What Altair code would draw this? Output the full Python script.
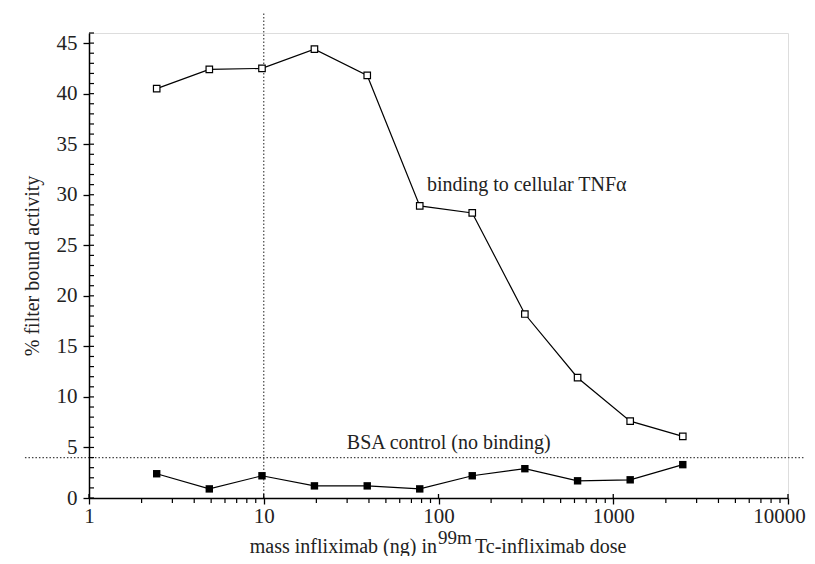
import altair as alt
import pandas as pd

# ---- data ----
dose = [2.44, 4.88, 9.77, 19.5, 39.1, 78.1, 156, 312, 625, 1250, 2500]
tnf = [40.5, 42.4, 42.5, 44.4, 41.8, 28.9, 28.2, 18.2, 11.9, 7.6, 6.1]
bsa = [2.4, 0.9, 2.2, 1.2, 1.2, 0.9, 2.2, 2.9, 1.7, 1.8, 3.3]

x_major = [1, 10, 100, 1000, 10000]
x_minor = [m * d for d in [1, 10, 100, 1000] for m in range(2, 10)]
y_major = [0, 5, 10, 15, 20, 25, 30, 35, 40, 45]
y_minor = list(range(0, 47))

ref_dose = 10
ref_level = 4

FONT = "Liberation Serif"
W, H = 699, 465

xs = alt.Scale(type="log", domain=[1, 10000])
ys = alt.Scale(domain=[0, 46])

xaxis = alt.Axis(values=x_major, format="d", title=None, grid=False,
                 domainColor="black", domainWidth=1.5, tickColor="black",
                 tickSize=6, tickWidth=1.3, labelFont=FONT, labelFontSize=21,
                 labelColor="#222", labelPadding=1, labelFlush=False,
                 labelOffset=alt.expr("datum.value == 10000 ? -9 : 0"))
yaxis = alt.Axis(values=y_major, title="% filter bound activity", grid=False,
                 domainColor="black", domainWidth=1.5, tickColor="black",
                 tickSize=6, tickWidth=1.3, labelFont=FONT, labelFontSize=21,
                 labelColor="#222", labelPadding=6, titleFont=FONT,
                 titleFontSize=20, titleFontWeight="normal", titleColor="#222",
                 titlePadding=14)

X = alt.X("x:Q", scale=xs, axis=xaxis)
Y = alt.Y("y:Q", scale=ys, axis=yaxis)

tnf_df = pd.DataFrame({"x": dose, "y": tnf})
bsa_df = pd.DataFrame({"x": dose, "y": bsa})

tnf_line = alt.Chart(tnf_df).mark_line(color="black", strokeWidth=1.2).encode(x=X, y=Y)
tnf_pts = alt.Chart(tnf_df).mark_point(shape="square", filled=True, fill="white",
                                        stroke="black", strokeWidth=1.2, size=42,
                                        opacity=1).encode(x=X, y=Y)
bsa_line = alt.Chart(bsa_df).mark_line(color="black", strokeWidth=1.2).encode(x=X, y=Y)
bsa_pts = alt.Chart(bsa_df).mark_point(shape="square", filled=True, color="black",
                                        size=55, opacity=1).encode(x=X, y=Y)

vline = alt.Chart(pd.DataFrame({"x": [ref_dose], "y": [0], "y2": [48]})).mark_rule(
    color="#444", strokeDash=[1.5, 2], strokeWidth=1.2, clip=False
).encode(x=X, y=Y, y2="y2:Q")

hline = alt.Chart(pd.DataFrame({"x": [0.43], "x2": [12500], "y": [ref_level]})).mark_rule(
    color="#444", strokeDash=[1.5, 2], strokeWidth=1.2, clip=False
).encode(x=X, x2="x2:Q", y=Y)

ymin = alt.Chart(pd.DataFrame({"y": y_minor})).mark_rule(
    color="black", strokeWidth=1.2, clip=False
).encode(y=Y, x=alt.value(0), x2=alt.value(5))

xmin = alt.Chart(pd.DataFrame({"x": x_minor})).mark_rule(
    color="black", strokeWidth=1.2, clip=False
).encode(x=X, y=alt.value(H), y2=alt.value(H + 5))

xmaj_in = alt.Chart(pd.DataFrame({"x": x_major})).mark_rule(
    color="black", strokeWidth=1.3, clip=False
).encode(x=X, y=alt.value(H - 4), y2=alt.value(H))

ann = alt.Chart(pd.DataFrame({
    "x": [86, 29.9], "y": [31.0, 5.44],
    "t": ["binding to cellular TNFα", "BSA control (no binding)"]
})).mark_text(font=FONT, fontSize=20, align="left", baseline="middle",
              color="#222").encode(x=X, y=Y, text="t:N")

title_df = pd.DataFrame({"d": [0]})
t1 = alt.Chart(title_df).mark_text(font=FONT, fontSize=20, align="right",
                                   baseline="alphabetic", color="#222",
                                   text="mass infliximab (ng) in").encode(
    x=alt.value(348), y=alt.value(520))
t2 = alt.Chart(title_df).mark_text(font=FONT, fontSize=19, align="left",
                                   baseline="alphabetic", color="#222",
                                   text="99m").encode(
    x=alt.value(349), y=alt.value(511))
t3 = alt.Chart(title_df).mark_text(font=FONT, fontSize=20, align="left",
                                   baseline="alphabetic", color="#222",
                                   text="Tc-infliximab dose").encode(
    x=alt.value(386), y=alt.value(520))

chart = alt.layer(
    vline, hline, ymin, xmin, xmaj_in, tnf_line, tnf_pts, bsa_line, bsa_pts,
    ann, t1, t2, t3
).properties(
    width=W, height=H,
    autosize=alt.AutoSizeParams(type="none"),
    padding={"left": 81, "top": 25, "right": 19, "bottom": 58},
).configure_view(stroke=None).configure_axis(
    labelFont=FONT, titleFont=FONT
).configure(background="white")

chart.save("out.html", embed_options={"renderer": "svg", "actions": False})
